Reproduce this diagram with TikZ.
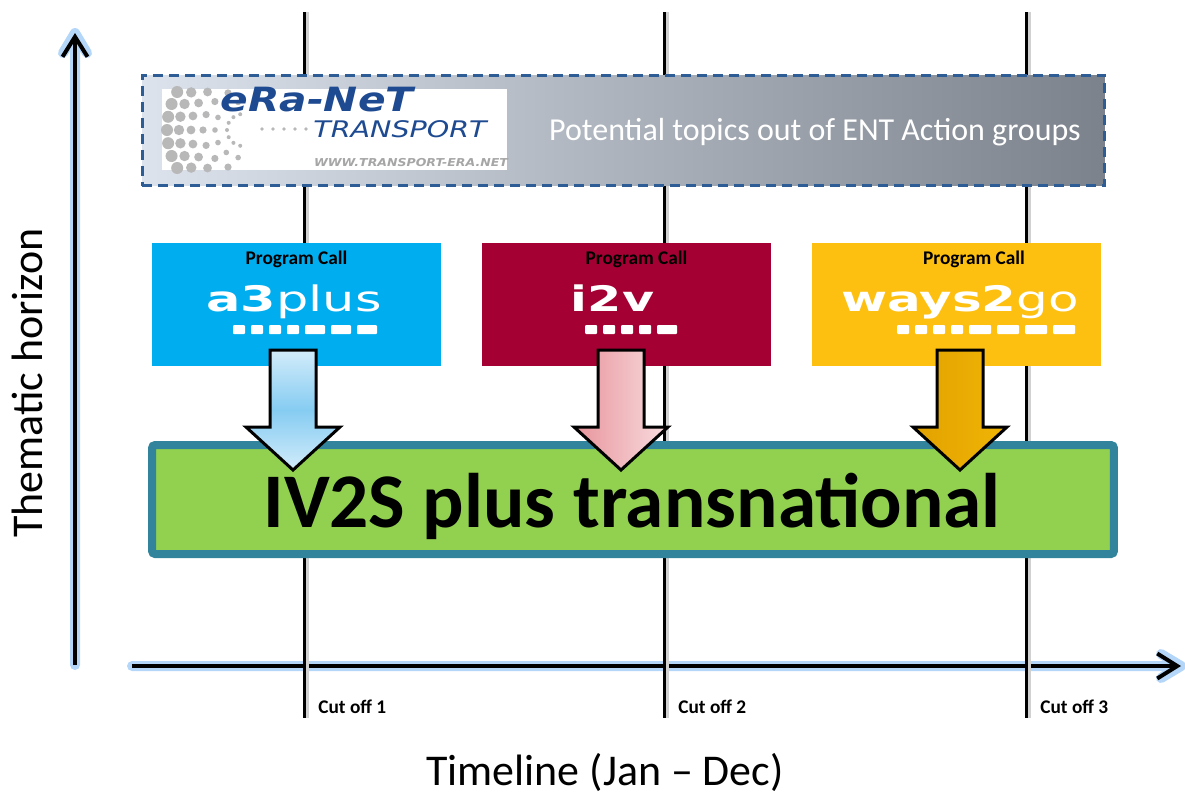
\documentclass[tikz,border=0pt]{standalone}
\usepackage{fontspec}
\setmainfont{Carlito}
\newfontfamily\logofont{DejaVu Sans}
\usetikzlibrary{arrows.meta}
\usetikzlibrary{positioning}

\definecolor{callblue}{HTML}{00ADEF}
\definecolor{callred}{HTML}{A50034}
\definecolor{callyellow}{HTML}{FDBF10}
\definecolor{ivgreen}{HTML}{92D050}
\definecolor{ivteal}{HTML}{31849B}
\definecolor{entblue}{HTML}{1D4A91}
\definecolor{dashblue}{HTML}{2E5D95}
\definecolor{glow}{HTML}{B4D6F8}
\definecolor{topicleft}{HTML}{DCE3EC}
\definecolor{topicright}{HTML}{7C828B}
\definecolor{arrowblueA}{HTML}{D2ECFA}
\definecolor{arrowblueB}{HTML}{86CCF2}
\definecolor{arrowredA}{HTML}{E8949B}
\definecolor{arrowredB}{HTML}{F8DDE0}
\definecolor{arrowgoldA}{HTML}{E2A200}
\definecolor{arrowgoldB}{HTML}{F0B405}

\begin{document}
\begin{tikzpicture}[x=0.02cm,y=-0.02cm]
	\tikzstyle{axisglow}=[line width=0.2cm, color=glow, line cap=round, line join=round]
	\tikzstyle{axis}=[line width=0.08cm, -{Straight Barb[length=0.4cm,width=0.5cm]}]
	\tikzstyle{cutline}=[line width=0.06cm]
	\tikzstyle{cutshadow}=[line width=0.06cm, color=black!18]
	\tikzstyle{cutlabel}=[inner sep=0pt, font=\fontsize{11pt}{13pt}\selectfont\bfseries]
	\tikzstyle{axislabel}=[inner sep=0pt, font=\fontsize{25pt}{30pt}\selectfont]
	\tikzstyle{topicbox}=[rectangle, minimum width=19.26cm, minimum height=2.22cm, left color=topicleft, right color=topicright, draw=dashblue, line width=0.06cm, dash pattern=on 0.2cm off 0.12cm]
	\tikzstyle{logobox}=[rectangle, fill=white, minimum width=6.9cm, minimum height=1.62cm]
	\tikzstyle{topictext}=[inner sep=0pt, text=white, font=\fontsize{18.2pt}{21pt}\selectfont]
	\tikzstyle{callbox}=[rectangle, minimum width=5.78cm, minimum height=2.46cm]
	\tikzstyle{calltitle}=[inner sep=0pt, font=\fontsize{11pt}{13pt}\selectfont\bfseries]
	\tikzstyle{callword}=[inner sep=0pt, text=white, font=\logofont\fontsize{20pt}{22pt}\selectfont]
	\tikzstyle{ivbox}=[rectangle, minimum width=19.24cm, minimum height=2.18cm, fill=ivgreen, draw=ivteal, line width=0.16cm, rounded corners=0.06cm]
	\tikzstyle{ivtext}=[inner sep=0pt, font=\fontsize{44pt}{50pt}\selectfont\bfseries]
	\tikzstyle{blockarrow}=[draw=black, line width=0.06cm, line join=miter]
	\tikzstyle{a3shade}=[top color=arrowblueA, bottom color=arrowblueA, middle color=arrowblueB]
	\tikzstyle{i2vshade}=[left color=arrowredA, right color=arrowredB]
	\tikzstyle{waysshade}=[left color=arrowgoldA, right color=arrowgoldB]

	\useasboundingbox (0,0) rectangle (1185,798);

	% axes
	\coordinate (yorigin) at (75,665);
	\coordinate (ytip) at (75,33);
	\coordinate (xorigin) at (132,666);
	\coordinate (xtip) at (1181,666);
	\draw[axisglow] (yorigin) -- (ytip) ([xshift=-0.24cm,yshift=-0.4cm]ytip) -- (ytip) -- ([xshift=0.24cm,yshift=-0.4cm]ytip);
	\draw[axisglow] (xorigin) -- (xtip) ([xshift=-0.4cm,yshift=0.24cm]xtip) -- (xtip) -- ([xshift=-0.4cm,yshift=-0.24cm]xtip);
	\draw[axis] (yorigin) -- (ytip);
	\draw[axis] (xorigin) -- (xtip);
	\node[axislabel, rotate=90, anchor=base] (thematic) at (42,383) {Thematic horizon};
	\node[axislabel, anchor=base] (timeline) at (605,785) {Timeline (Jan – Dec)};

	% cut off lines
	\foreach \x/\n in {304/1,664/2,1026/3}{
		\coordinate (cuttop\n) at (\x,12);
		\coordinate (cutbot\n) at (\x,718);
		\draw[cutshadow] ([xshift=0.06cm]cuttop\n) -- ([xshift=0.06cm]cutbot\n);
		\draw[cutline] (cuttop\n) -- (cutbot\n);
		\node[cutlabel, anchor=base west] (cutlabel\n) at (\x+14,713) {Cut off \n};
	}

	% ERA-NET topics
	\node[topicbox] (topics) at (623.5,130.5) {};
	\node[logobox] (logo) at (334.5,129.5) {};
	\foreach \r/\d/\amax in {16/2/80,28/2.8/80,40/3.6/68,52/4.4/47,64/5.2/36,76/6/30}{
		\foreach \k in {0,...,6}{
			\pgfmathsetmacro\ang{180-\amax+2*\amax*\k/6}
			\fill[black!28] (243,130) ++(\ang:\r) circle (\d);
		}
	}
	\foreach \x in {262,273,284,295,306}
		\fill[black!28] (\x,129) circle (1.8);
	\node[inner sep=0pt, text=entblue, font=\logofont\fontsize{19pt}{21pt}\selectfont\bfseries\itshape] (eranet) at (317,100) {\scalebox{1.22}[1]{eRa-NeT}};
	\node[inner sep=0pt, text=entblue, font=\logofont\fontsize{13pt}{15pt}\selectfont\itshape] (transport) at (400,129) {\scalebox{1.25}[1]{TRANSPORT}};
	\node[inner sep=0pt, text=black!35, font=\logofont\fontsize{6.2pt}{7pt}\selectfont\bfseries\itshape] (url) at (411,163) {\scalebox{1.15}[1]{WWW.TRANSPORT-ERA.NET}};
	\node[topictext] (topiclabel) at (815,132) {Potential topics out of ENT Action groups};

	% program calls
	\node[callbox, fill=callblue] (a3box) at (296.5,304.5) {};
	\node[calltitle] (a3title) at ([yshift=-0.34cm]a3box.north) {Program Call};
	\node[callword, anchor=base] (a3word) at ([yshift=-1.38cm,xshift=-0.05cm]a3box.north) {\scalebox{1.45}[1]{\bfseries a3\mdseries plus}};
	\foreach \a/\b in {233/245,251/263,269/281,287/299,305/325,331/351,357/377}
		\fill[white, rounded corners=0.02cm] (\a,325) rectangle (\b,334);

	\node[callbox, fill=callred] (i2vbox) at (626.5,304.5) {};
	\node[calltitle] (i2vtitle) at ([yshift=-0.34cm,xshift=0.2cm]i2vbox.north) {Program Call};
	\node[callword, anchor=base] (i2vword) at ([yshift=-1.38cm,xshift=-0.28cm]i2vbox.north) {\scalebox{1.4}[1]{\bfseries i2v}};
	\foreach \a/\b in {585/597,603/615,621/633,639/651,657/677}
		\fill[white, rounded corners=0.02cm] (\a,325) rectangle (\b,334);

	\node[callbox, fill=callyellow] (waysbox) at (956.5,304.5) {};
	\node[calltitle] (waystitle) at ([yshift=-0.34cm,xshift=0.35cm]waysbox.north) {Program Call};
	\node[callword, anchor=base] (waysword) at ([yshift=-1.38cm,xshift=0.07cm]waysbox.north) {\scalebox{1.42}[1]{\bfseries ways2\mdseries go}};
	\foreach \a/\b in {897/909,915/927,933/945,951/963,969/991,997/1019,1025/1047,1053/1075}
		\fill[white, rounded corners=0.02cm] (\a,325) rectangle (\b,334);

	% IV2S
	\node[ivbox] (iv) at (633,499.5) {};
	\node[ivtext, anchor=base] (ivlabel) at (632,527) {IV2S plus transnational};

	% arrows into IV2S
	\foreach \c/\sh in {293/a3shade,621/i2vshade,960/waysshade}
		\draw[blockarrow,\sh] (\c-23,350) -- (\c+23,350) -- (\c+23,427) -- (\c+47,427) -- (\c,470) -- (\c-47,427) -- (\c-23,427) -- cycle;
\end{tikzpicture}
\end{document}
